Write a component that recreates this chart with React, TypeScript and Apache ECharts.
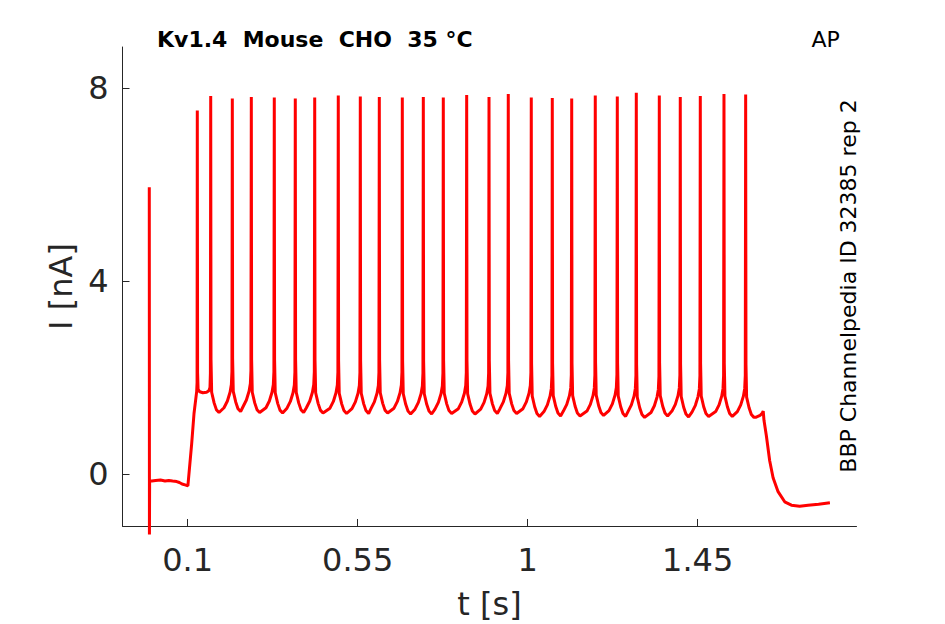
import React, { useEffect, useRef } from "react";
import * as echarts from "echarts";

// Axis ticks (values shown on the axes)
const xTickValues = [0.1, 0.55, 1, 1.45];
const yTickValues = [0, 4, 8];

// Holding period before the step: capacitive transient and baseline [t (s), I (nA)]
const preStepTrace: [number, number][] = [
  [-0.0017, 5.95],
  [-0.0013, -1.25],
  [-0.0008, -0.14],
  [0.005, -0.14],
  [0.015, -0.13],
  [0.028, -0.12],
  [0.04, -0.14],
  [0.05, -0.13],
  [0.06, -0.14],
  [0.071, -0.15],
  [0.078, -0.17],
  [0.085, -0.2],
  [0.093, -0.22],
  [0.1005, -0.24],
];

// Step onset, first spike and the plateau before the second spike
const onsetTrace: [number, number][] = [
  [0.1016, -0.23],
  [0.1106, 0.64],
  [0.1167, 1.26],
  [0.1238, 1.72],
  [0.1248, 1.9],
  [0.1254, 7.54],
  [0.1262, 2.1],
  [0.1275, 1.76],
  [0.132, 1.71],
  [0.14, 1.69],
  [0.15, 1.7],
  [0.156, 1.73],
  [0.159, 1.8],
  [0.1601, 2.1],
];

// Spike train: spikes 2..27
const spikeTimes = [
  0.1609, 0.2181, 0.2684, 0.3292, 0.3848, 0.4362, 0.4986, 0.5569, 0.6072,
  0.6681, 0.7237, 0.7766, 0.8385, 0.8976, 0.9486, 1.0095, 1.0651, 1.1165,
  1.1789, 1.2372, 1.2875, 1.3484, 1.4039, 1.4569, 1.5196, 1.577,
];
const spikePeaks = [
  7.84, 7.79, 7.82, 7.81, 7.79, 7.81, 7.85, 7.83, 7.82, 7.81, 7.82, 7.81,
  7.86, 7.82, 7.88, 7.81, 7.8, 7.79, 7.85, 7.83, 7.91, 7.85, 7.82, 7.84,
  7.88, 7.87,
];
// trough level of the after-hyperpolarisation following each spike
const troughLevels = [
  1.28, 1.3, 1.28, 1.27, 1.28, 1.27, 1.26, 1.26, 1.27, 1.25, 1.25, 1.26,
  1.25, 1.26, 1.26, 1.2, 1.21, 1.21, 1.22, 1.2, 1.18, 1.21, 1.19, 1.2, 1.2,
  1.18,
];
// waveform after a spike: [time after spike, nA above trough]
const afterSpikeShape: [number, number][] = [
  [0.0008, 1.1],
  [0.0025, 0.42],
  [0.009, 0.2],
  [0.015, 0.06],
  [0.022, 0],
];
// ramp before the next spike: [time before spike, nA above trough]
const beforeSpikeShape: [number, number][] = [
  [-0.022, 0.1],
  [-0.013, 0.24],
  [-0.006, 0.42],
  [-0.0025, 0.58],
  [-0.001, 0.85],
];

// End of the step and return to holding
const offsetTrace: [number, number][] = [
  [1.6035, 1.18],
  [1.615, 1.22],
  [1.621, 1.27],
  [1.6235, 1.31],
  [1.6255, 1.12],
  [1.6318, 0.8],
  [1.6406, 0.28],
  [1.6496, -0.07],
  [1.6628, -0.36],
  [1.6803, -0.57],
  [1.698, -0.64],
  [1.72, -0.66],
  [1.7422, -0.64],
  [1.77, -0.62],
  [1.8, -0.59],
];

function buildTrace(): [number, number][] {
  const pts: [number, number][] = [...preStepTrace, ...onsetTrace];
  for (let k = 0; k < spikeTimes.length; k++) {
    const s = spikeTimes[k];
    const tr = troughLevels[k];
    pts.push([s, spikePeaks[k]]);
    for (const [dt, dv] of afterSpikeShape) pts.push([s + dt, tr + dv]);
    if (k + 1 < spikeTimes.length) {
      const sn = spikeTimes[k + 1];
      for (const [dt, dv] of beforeSpikeShape) pts.push([sn + dt, tr + dv]);
    }
  }
  pts.push(...offsetTrace);
  return pts;
}

const TEXT = "#262626";
const FONT = "DejaVu Sans";

export default function App() {
  const ref = useRef<HTMLDivElement>(null);
  useEffect(() => {
    if (!ref.current) return;
    const chart = echarts.init(ref.current, undefined, { renderer: "svg" });
    chart.setOption({
      animation: false,
      backgroundColor: "#ffffff",
      textStyle: { fontFamily: FONT },
      grid: {
        left: 122.5,
        right: 88.5,
        top: 47,
        bottom: 98,
        containLabel: false,
        outerBoundsMode: "none",
      },
      xAxis: {
        type: "value",
        min: -0.0726,
        max: 1.8704,
        name: "t [s]",
        nameLocation: "middle",
        nameGap: 62,
        nameTextStyle: { color: TEXT, fontSize: 32, fontFamily: FONT },
        axisLine: { show: true, onZero: false, lineStyle: { color: TEXT, width: 1 } },
        axisTick: {
          show: true,
          inside: true,
          length: 7,
          customValues: xTickValues,
          lineStyle: { color: TEXT, width: 1 },
        },
        axisLabel: {
          show: true,
          customValues: xTickValues,
          margin: 18,
          color: TEXT,
          fontSize: 32,
          fontFamily: FONT,
          formatter: (v: number) => String(v),
        },
        splitLine: { show: false },
      },
      yAxis: {
        type: "value",
        min: -1.0715,
        max: 8.856,
        name: "I [nA]",
        nameLocation: "middle",
        nameGap: 45,
        nameTextStyle: { color: TEXT, fontSize: 32, fontFamily: FONT },
        axisLine: { show: true, onZero: false, lineStyle: { color: TEXT, width: 1 } },
        axisTick: {
          show: true,
          inside: true,
          length: 7,
          customValues: yTickValues,
          lineStyle: { color: TEXT, width: 1 },
        },
        axisLabel: {
          show: true,
          customValues: yTickValues,
          margin: 14,
          color: TEXT,
          fontSize: 32,
          fontFamily: FONT,
          formatter: (v: number) => String(v),
        },
        splitLine: { show: false },
      },
      series: [
        {
          type: "line",
          data: buildTrace(),
          showSymbol: false,
          symbol: "none",
          clip: false,
          lineStyle: { color: "#ff0000", width: 3, join: "bevel" },
          itemStyle: { color: "#ff0000" },
        },
      ],
      graphic: [
        {
          type: "text",
          x: 157,
          y: 39.5,
          style: {
            text: "Kv1.4  Mouse  CHO  35 °C",
            font: `bold 22px "${FONT}"`,
            fill: "#000000",
            textAlign: "left",
            textVerticalAlign: "middle",
          },
        },
        {
          type: "text",
          x: 811.5,
          y: 39.5,
          style: {
            text: "AP",
            font: `22px "${FONT}"`,
            fill: "#000000",
            textAlign: "left",
            textVerticalAlign: "middle",
          },
        },
        {
          type: "text",
          x: 848.5,
          y: 286,
          rotation: Math.PI / 2,
          style: {
            text: "BBP Channelpedia ID 32385 rep 2",
            font: `22px "${FONT}"`,
            fill: "#000000",
            textAlign: "center",
            textVerticalAlign: "middle",
          },
        },
      ],
    });
    return () => chart.dispose();
  }, []);
  return (
    <div
      ref={ref}
      style={{ position: "absolute", left: 0, top: 0, width: 945, height: 624 }}
    />
  );
}
